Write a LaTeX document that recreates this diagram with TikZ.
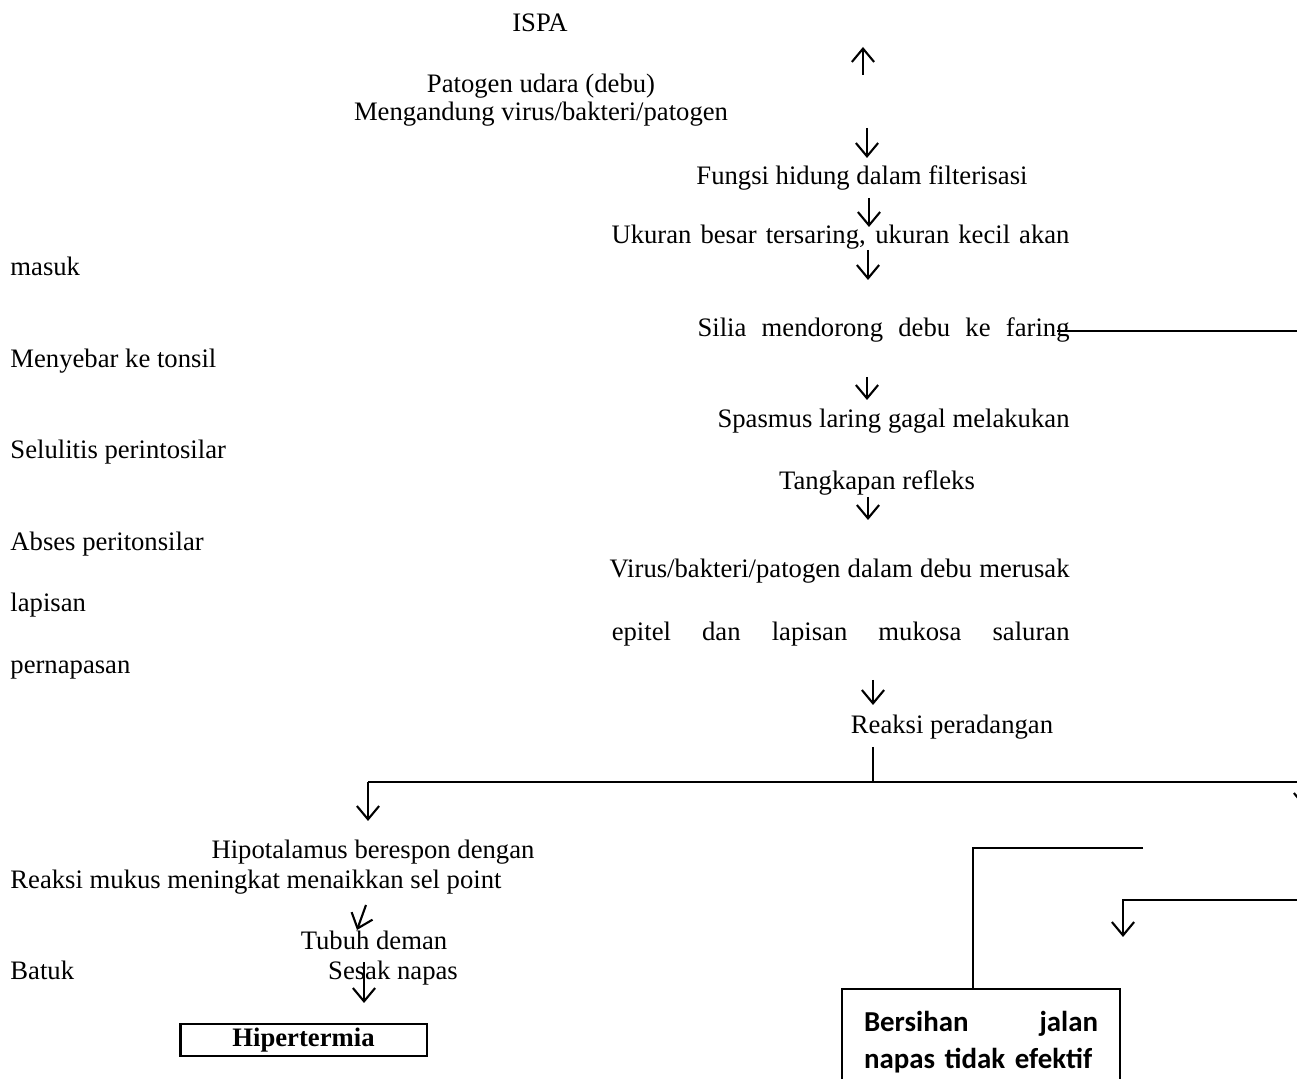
\documentclass[tikz,border=0pt]{standalone}
\usepackage{fontspec}
\setmainfont{Liberation Serif}
\newfontfamily\calibri{Carlito}
\usetikzlibrary{arrows.meta}

\begin{document}
\begin{tikzpicture}[x=0.45pt,y=-0.45pt,
  txt/.style={inner sep=0pt,font=\fontsize{12}{14}\selectfont},
  txtl/.style={txt,anchor=base west},
  txtr/.style={txt,anchor=base east},
  txtc/.style={txt,anchor=base},
  v/.style={line width=0.95pt,-{Straight Barb[length=6pt,width=10pt]}},
  ln/.style={line width=0.9pt}]
\useasboundingbox (0,0) rectangle (1297,1079);
% main column
\node[txtc] (ispa) at (540,32) {ISPA};
\node[txtc] (patogen) at (541,93) {Patogen udara (debu)};
\node[txtc] (mengandung) at (541,121) {Mengandung virus/bakteri/patogen};
\node[txtc] (fungsi) at (862,185) {Fungsi hidung dalam filterisasi};
\node[txtr] (ukuran) at (1070,244) {\makebox[206.1pt][s]{Ukuran besar tersaring, ukuran kecil akan}};
\node[txtr] (silia) at (1070,337) {\makebox[167.4pt][s]{Silia mendorong debu ke faring}};
\node[txtr] (spasmus) at (1070,428) {\makebox[158.4pt][s]{Spasmus laring gagal melakukan}};
\node[txtc] (tangkapan) at (877,490) {Tangkapan refleks};
\node[txtr] (virus) at (1070,578) {\makebox[207pt][s]{Virus/bakteri/patogen dalam debu merusak}};
\node[txtr] (epitel) at (1070,641) {\makebox[206pt][s]{epitel dan lapisan mukosa saluran}};
\node[txtc] (reaksi) at (952,734) {Reaksi peradangan};
% left column
\node[txtl] (masuk) at (10,276) {masuk};
\node[txtl] (menyebar) at (10,368) {Menyebar ke tonsil};
\node[txtl] (selulitis) at (10,459) {Selulitis perintosilar};
\node[txtl] (abses) at (10,551) {Abses peritonsilar};
\node[txtl] (lapisan) at (10,612) {lapisan};
\node[txtl] (pernapasan) at (10,674) {pernapasan};
% lower left branch
\node[txtc] (hipotalamus) at (373,859) {Hipotalamus berespon dengan};
\node[txtl] (mukus) at (10,889) {Reaksi mukus meningkat menaikkan sel point};
\node[txtc] (tubuh) at (374,950) {Tubuh deman};
\node[txtl] (batuk) at (10,980) {Batuk};
\node[txtc] (sesak) at (393,980) {Sesak napas};
\node[draw,line width=1.2pt,minimum width=111pt,minimum height=14.4pt,inner sep=0pt,
  font=\bfseries\fontsize{12}{14}\selectfont] (hiper) at (303.5,1040) {Hipertermia};
\node[draw,line width=0.9pt,anchor=north west,inner xsep=9.9pt,inner ysep=9.9pt,
  text width=105.3pt,align=left,font=\calibri\bfseries\fontsize{13}{16.65}\selectfont]
  (bersihan) at (841,988) {\makebox[105.3pt]{Bersihan\hfill jalan}\\napas tidak efektif};
% arrows of the main column
\coordinate (u0) at (863,75); \coordinate (u1) at (863,47);
\coordinate (d1) at (867,128); \coordinate (d2) at (869,198);
\coordinate (d3) at (868,250); \coordinate (d4) at (867,377);
\coordinate (d5) at (868,497); \coordinate (d6) at (873,680);
\draw[v] (u0) -- (u1);
\draw[v] (d1) -- ++(0,30);
\draw[v] (d2) -- ++(0,29);
\draw[v] (d3) -- ++(0,30);
\draw[v] (d4) -- ++(0,23);
\draw[v] (d5) -- ++(0,23);
\draw[v] (d6) -- ++(0,25);
\coordinate (fs) at (1057,331); \coordinate (fe) at (1320,331);
\draw[ln] (fs) -- (fe);
% branching
\coordinate (br) at (873,747); \coordinate (bm) at (873,782);
\coordinate (bl) at (368,782); \coordinate (bre) at (1305,782);
\draw[ln] (br) -- (bm);
\draw[ln] (bl) -- (1320,782);
\draw[v] (bl) -- ++(0,39);
\draw[v] (bre) -- ++(0,26);
\coordinate (k1) at (1143,848); \coordinate (k2) at (973,848);
\draw[ln] (k1) -- (k2) -- (k2 |- bersihan.north);
\coordinate (m1) at (1320,900); \coordinate (m2) at (1123,900);
\draw[v] (m1) -- (m2) -- ++(0,37);
% lower left arrows
\coordinate (s1) at (366,905); \coordinate (s2) at (357,930);
\draw[v] (s1) -- (s2);
\coordinate (t1) at (364,962); \coordinate (t2) at (364,1003);
\draw[v] (t1) -- (t2);
\end{tikzpicture}
\end{document}
